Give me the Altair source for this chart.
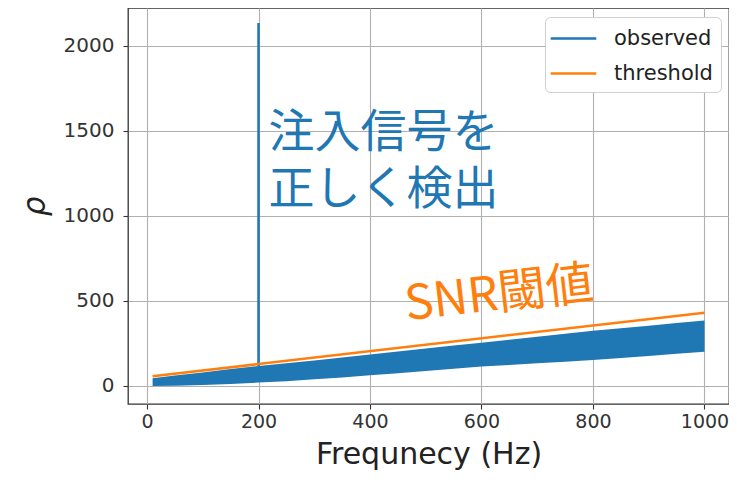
import altair as alt
import pandas as pd

# observed noise band: frequency, lower edge, upper edge
band_f = [10, 50, 100, 150, 200, 250, 300, 350, 400, 450, 500, 550, 600, 650, 700, 750, 800, 850, 900, 950, 1000]
band_lo = [0, 2, 6, 12, 20, 28, 39, 50, 63, 75, 88, 101, 114, 123, 133, 143, 153, 165, 176, 189, 202]
band_hi = [45, 62, 80, 100, 118, 134, 150, 168, 185, 203, 220, 238, 255, 272, 290, 307, 325, 340, 355, 370, 385]

# injected signal spike
spike_f = [200, 200]
spike_v = [118, 2135]

# SNR threshold
thr_f = [10, 1000]
thr_v = [57, 431]

x_ticks = [0, 200, 400, 600, 800, 1000]
y_ticks = [0, 500, 1000, 1500, 2000]

# annotations
ann1_text = ["注入信号を", "正しく検出"]
ann1_f = [218, 218]
ann1_v = [1490, 1155]
ann2_text = ["SNR閾値"]
ann2_f = [632]
ann2_v = [532]

blue = "#1f77b4"
orange = "#ff7f0e"

band_df = pd.DataFrame({"f": band_f, "lo": band_lo, "hi": band_hi})
lines_df = pd.DataFrame({
    "f": spike_f + thr_f,
    "v": spike_v + thr_v,
    "series": ["observed"] * len(spike_f) + ["threshold"] * len(thr_f),
})
ann1_df = pd.DataFrame({"f": ann1_f, "v": ann1_v, "t": ann1_text})
ann2_df = pd.DataFrame({"f": ann2_f, "v": ann2_v, "t": ann2_text})

xs = alt.Scale(domain=[-34.1, 1044], nice=False, zero=False)
ys = alt.Scale(domain=[-106, 2223.5], nice=False, zero=False)

xenc = alt.X("f:Q", scale=xs, axis=alt.Axis(values=x_ticks, format="d", title="Frequnecy (Hz)",
                                            labelFontSize=19, labelPadding=3,
                                            titlePadding=8, titleFontSize=30))

band = alt.Chart(band_df).mark_area(color=blue, opacity=1, line=False).encode(
    x=xenc,
    y=alt.Y("lo:Q", scale=ys, axis=alt.Axis(values=y_ticks, format="d", title="ρ", titleFontStyle="italic",
                                            titleFontSize=31, labelPadding=9, titlePadding=12)),
    y2="hi:Q",
)

lines = alt.Chart(lines_df).mark_line(strokeWidth=2.5).encode(
    x=alt.X("f:Q", scale=xs),
    y=alt.Y("v:Q", scale=ys),
    color=alt.Color("series:N",
                    scale=alt.Scale(domain=["observed", "threshold"], range=[blue, orange]),
                    legend=alt.Legend(title=None, orient="none", legendX=417, legendY=9,
                                      fillColor="white", strokeColor="#d0d0d0",
                                      cornerRadius=5, padding=8,
                                      labelFont="DejaVu Sans", labelFontSize=21,
                                      labelColor="#222222",
                                      symbolType="M-1.9,0L1.9,0",
                                      symbolSize=576, symbolStrokeWidth=2.5,
                                      symbolOffset=7,
                                      rowPadding=11, labelOffset=27)),
)

ann1 = alt.Chart(ann1_df).mark_text(font="Noto Sans CJK JP", fontSize=46, color=blue,
                                    align="left", baseline="middle").encode(
    x=alt.X("f:Q", scale=xs), y=alt.Y("v:Q", scale=ys), text="t:N")

ann2 = alt.Chart(ann2_df).mark_text(font="Noto Sans CJK JP", fontSize=48, color=orange,
                                    align="center", baseline="middle", angle=353.5).encode(
    x=alt.X("f:Q", scale=xs), y=alt.Y("v:Q", scale=ys), text="t:N")

chart = alt.layer(band, lines, ann1, ann2).properties(
    width=601, height=396,
    autosize=alt.AutoSizeParams(type="none"),
    padding={"left": 120, "top": 0, "right": 0, "bottom": 68},
    background="white",
).configure_view(
    stroke="#333333", strokeWidth=1.3
).configure_axis(
    grid=True, gridColor="#b0b0b0", gridWidth=1.1, domain=False,
    tickColor="#333333", tickSize=5, tickWidth=1.1,
    labelFont="DejaVu Sans", labelFontSize=20, labelColor="#333333",
    titleFont="DejaVu Sans", titleFontWeight="normal", titleColor="#222222",
)

chart.save("out.html", embed_options={"renderer": "svg", "actions": False})
